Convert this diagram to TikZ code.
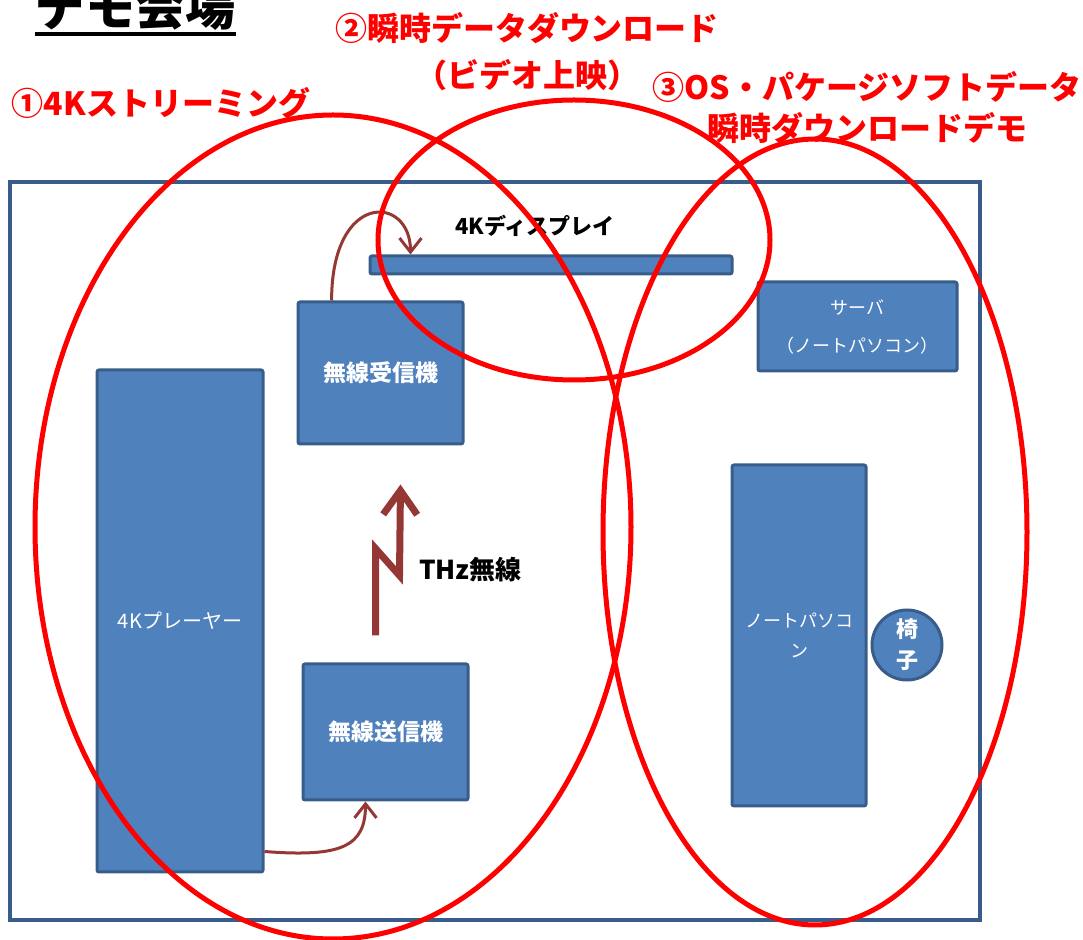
\documentclass[tikz,border=0pt]{standalone}
\usepackage{fontspec}
\setmainfont{Noto Sans CJK JP}
\usetikzlibrary{positioning,
        calc,
        arrows.meta}
\usepackage{xcolor}
\definecolor{boxfill}{HTML}{4F81BD}
\definecolor{boxline}{HTML}{385D8A}
\definecolor{flow}{HTML}{953735}

\begin{document}
\begin{tikzpicture}[x=0.5pt,y=-0.5pt,
    unit/.style={rectangle,draw=boxline,fill=boxfill,line width=1.5pt,rounded corners=1pt,text=white,align=center,inner sep=0pt},
    zone/.style={draw=red,line width=2.5pt},
    zonelabel/.style={text=red,align=center,inner sep=0pt},
    conn/.style={draw=flow,line width=1.5pt,-{Straight Barb[length=7pt,width=11pt]}}]
    \useasboundingbox (0,0) rectangle (1083,940);

    \node [draw=boxline,line width=2pt,minimum width=485pt,minimum height=369pt,inner sep=0pt] (room) at (495,551) {};

    \node [unit,minimum width=181pt,minimum height=9pt] (display) at (551,265) {};
    \node [font=\bfseries\fontsize{11}{13}\selectfont] (displabel) at (535,226) {4Kディスプレイ};
    \node [unit,minimum width=82.5pt,minimum height=71pt,font=\bfseries\fontsize{11.5}{14}\selectfont] (rx) at (380.5,373) {無線受信機};
    \node [unit,minimum width=82.5pt,minimum height=68pt,font=\bfseries\fontsize{11.5}{14}\selectfont] (tx) at (385.5,732) {無線送信機};
    \node [unit,minimum width=83pt,minimum height=251pt,font=\fontsize{10}{12}\selectfont] (player) at (180,621) {4Kプレーヤー};
    \node [unit,minimum width=99.5pt,minimum height=44.5pt,font=\fontsize{9}{19}\selectfont] (server) at (857.5,326.5) {サーバ\\（ノートパソコン）};
    \node [unit,minimum width=67pt,minimum height=170.5pt,font=\fontsize{9}{15}\selectfont] (laptop) at (799,635.5) {ノートパソコ\\ン};
    \node [unit,circle,minimum size=35pt,font=\bfseries\fontsize{11}{15.5}\selectfont] (chair) at (907,645) {椅\\子};

    \draw [conn] (rx.124) .. controls +(0,-110) and +(0,-60) .. ($(display.north west)+(42,0)$);
    \draw [conn] ($(player.south east)+(0,-22)$) .. controls +(77,6) and +(0,45) .. ($(tx.south west)+(64,0)$);

    \coordinate (thzfoot) at ($(tx.north)+(-10,-27)$);
    \coordinate (thztip) at ($(rx.south)+(20,39)$);
    \draw [draw=flow,line width=3.5pt,-{Straight Barb[length=12pt,width=17pt]}] (thzfoot) -- ++(0,-87) -- ++(24,27) -- (thztip);
    \node [font=\bfseries\fontsize{13}{15}\selectfont,anchor=west] (thzlabel) at (412,570) {THz無線};

    \draw [zone] (333,527) ellipse [x radius=298,y radius=412];
    \draw [zone] (574,240) ellipse [x radius=196,y radius=140];
    \draw [zone] (815,532) ellipse [x radius=212,y radius=393];

    \node [zonelabel,font=\bfseries\fontsize{16}{20}\selectfont] (z1) at (161,103) {①4Kストリーミング};
    \node [zonelabel,font=\bfseries\fontsize{16}{23.5}\selectfont] (z2) at (527,52) {②瞬時データダウンロード\\（ビデオ上映）};
    \node [zonelabel,font=\bfseries\fontsize{16}{20.5}\selectfont] (z3) at (867,108) {③OS・パケージソフトデータ\\瞬時ダウンロードデモ};

    \node [font=\bfseries\fontsize{25}{30}\selectfont,anchor=base west,inner sep=0pt] (title) at (35,26) {デモ会場};
    \draw [line width=2pt] ($(title.base west)+(0,8)$) -- ($(title.base east)+(0,8)$);
\end{tikzpicture}
\end{document}
